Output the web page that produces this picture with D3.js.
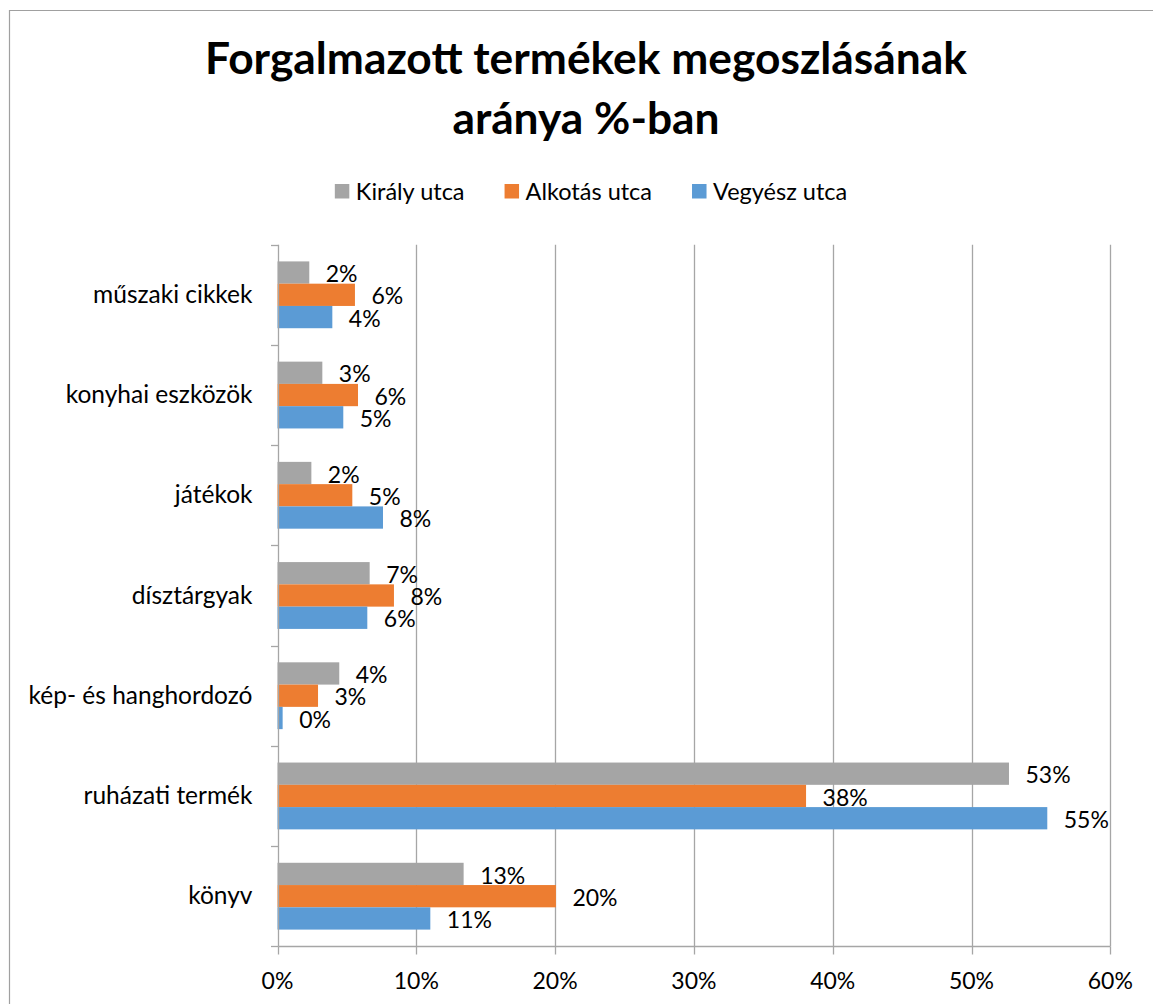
<!DOCTYPE html>
<html>
<head>
<meta charset="utf-8">
<script src="https://cdn.jsdelivr.net/npm/d3@7"></script>
<style>
  html, body { margin: 0; padding: 0; background: #fff; }
  svg { display: block; }
  text { font-family: Lato, "Open Sans", "DejaVu Sans", sans-serif; }
</style>
</head>
<body>
<svg id="chart" width="1153" height="1004"></svg>
<script>
// Product categories, top to bottom
const categories = [
  "műszaki cikkek",
  "konyhai eszközök",
  "játékok",
  "dísztárgyak",
  "kép- és hanghordozó",
  "ruházati termék",
  "könyv"
];

// Shops (series), drawn top to bottom inside each category
const seriesNames = ["Király utca", "Alkotás utca", "Vegyész utca"];
const seriesColors = ["#A5A5A5", "#ED7D31", "#5B9BD5"];

// Share of each category per shop (fractions)
const kiralyUtca  = [0.0229, 0.0323, 0.0244, 0.0664, 0.0445, 0.5270, 0.1341];
const alkotasUtca = [0.0558, 0.0580, 0.0539, 0.0839, 0.0292, 0.3808, 0.2006];
const vegyeszUtca = [0.0395, 0.0474, 0.0760, 0.0647, 0.0037, 0.5546, 0.1101];
const seriesValues = [kiralyUtca, alkotasUtca, vegyeszUtca];

// Axis ticks
const xTicks = [0, 0.1, 0.2, 0.3, 0.4, 0.5, 0.6];

const titleLines = ["Forgalmazott termékek megoszlásának", "aránya %-ban"];

const svg = d3.select("#chart");
const gridColor = "#A6A6A6";
const labelSize = 23;
const catSize = 24.5;

// Outer chart border
svg.append("path")
  .attr("d", "M9.5,1004 L9.5,10.5 L1153,10.5")
  .attr("fill", "none")
  .attr("stroke", "#A0A0A0")
  .attr("stroke-width", 1.2);

// Scales
const x = d3.scaleLinear().domain([0, 0.6]).range([277.5, 1110.3]);
const y = d3.scaleBand().domain(categories).range([244.7, 946.3]).padding(0);
const ySub = d3.scaleBand().domain(seriesNames).range([0, y.bandwidth()])
  .paddingInner(0).paddingOuter(0.75);

const rows = [];
categories.forEach((c, i) => {
  seriesNames.forEach((s, j) => {
    rows.push({ cat: c, series: s, color: seriesColors[j], value: seriesValues[j][i] });
  });
});

// Vertical gridlines
svg.append("g").selectAll("line")
  .data(xTicks.slice(1))
  .join("line")
  .attr("x1", d => Math.round(x(d)) + 0.5)
  .attr("x2", d => Math.round(x(d)) + 0.5)
  .attr("y1", y.range()[0])
  .attr("y2", y.range()[1])
  .attr("stroke", gridColor)
  .attr("stroke-width", 1.3);

// Bars
svg.append("g").selectAll("rect")
  .data(rows)
  .join("rect")
  .attr("x", x(0))
  .attr("y", d => y(d.cat) + ySub(d.series))
  .attr("width", d => x(d.value) - x(0))
  .attr("height", ySub.bandwidth())
  .attr("fill", d => d.color);

// Data labels
const pct = d3.format(".0%");
svg.append("g").selectAll("text")
  .data(rows)
  .join("text")
  .attr("x", d => x(d.value) + 16.5)
  .attr("y", d => y(d.cat) + ySub(d.series) + ySub.bandwidth() / 2 + 9.6)
  .attr("font-size", labelSize)
  .attr("fill", "#000")
  .text(d => pct(d.value));

// Category axis (left)
const yAxisX = Math.round(x(0)) + 0.5;
const yAxis = svg.append("g");
yAxis.append("line")
  .attr("x1", yAxisX).attr("x2", yAxisX)
  .attr("y1", y.range()[0]).attr("y2", y.range()[1])
  .attr("stroke", gridColor).attr("stroke-width", 1.3);
const boundaries = categories.map(c => y(c)).concat([y.range()[1]]);
yAxis.selectAll("line.tick")
  .data(boundaries)
  .join("line")
  .attr("class", "tick")
  .attr("x1", yAxisX - 7.5).attr("x2", yAxisX)
  .attr("y1", d => Math.round(d) + 0.5).attr("y2", d => Math.round(d) + 0.5)
  .attr("stroke", gridColor).attr("stroke-width", 1.3);
yAxis.selectAll("text")
  .data(categories)
  .join("text")
  .attr("x", 252.5)
  .attr("y", d => y(d) + y.bandwidth() / 2 + 8)
  .attr("text-anchor", "end")
  .attr("font-size", catSize)
  .attr("fill", "#000")
  .text(d => d);

// Value axis (bottom)
const xAxisY = Math.round(y.range()[1]) + 0.5;
const xAxis = svg.append("g");
xAxis.append("line")
  .attr("x1", yAxisX).attr("x2", Math.round(x(0.6)) + 0.5)
  .attr("y1", xAxisY).attr("y2", xAxisY)
  .attr("stroke", gridColor).attr("stroke-width", 1.3);
xAxis.selectAll("line.tick")
  .data(xTicks)
  .join("line")
  .attr("class", "tick")
  .attr("x1", d => Math.round(x(d)) + 0.5).attr("x2", d => Math.round(x(d)) + 0.5)
  .attr("y1", xAxisY).attr("y2", xAxisY + 8)
  .attr("stroke", gridColor).attr("stroke-width", 1.3);
xAxis.selectAll("text")
  .data(xTicks)
  .join("text")
  .attr("x", d => x(d))
  .attr("y", 989)
  .attr("text-anchor", "middle")
  .attr("font-size", labelSize)
  .attr("fill", "#000")
  .text(d => pct(d));

// Title, sized so the first line spans the chart header width
const title = svg.append("g");
const t1 = title.append("text")
  .attr("x", 586).attr("y", 74)
  .attr("text-anchor", "middle")
  .attr("font-weight", 700)
  .attr("font-size", 40)
  .attr("fill", "#000")
  .text(titleLines[0]);
const w1 = t1.node().getComputedTextLength();
const titleSize = 40 * 762 / w1;
t1.attr("font-size", titleSize);
title.append("text")
  .attr("x", 586).attr("y", 134)
  .attr("text-anchor", "middle")
  .attr("font-weight", 700)
  .attr("font-size", titleSize)
  .attr("fill", "#000")
  .text(titleLines[1]);

// Legend, centred under the title
const legend = svg.append("g");
const swatch = 14.5, swGap = 6.5, itemGap = 40;
const items = seriesNames.map((s, i) => {
  const g = legend.append("g");
  g.append("rect")
    .attr("x", 0).attr("y", 184)
    .attr("width", swatch).attr("height", swatch)
    .attr("fill", seriesColors[i]);
  const t = g.append("text")
    .attr("x", swatch + swGap).attr("y", 199.5)
    .attr("font-size", 23.5)
    .attr("fill", "#000")
    .text(s);
  return { g, w: swatch + swGap + t.node().getComputedTextLength() };
});
const total = d3.sum(items, d => d.w) + itemGap * (items.length - 1);
let cx = 591 - total / 2;
items.forEach(it => {
  it.g.attr("transform", `translate(${cx},0)`);
  cx += it.w + itemGap;
});
</script>
</body>
</html>
